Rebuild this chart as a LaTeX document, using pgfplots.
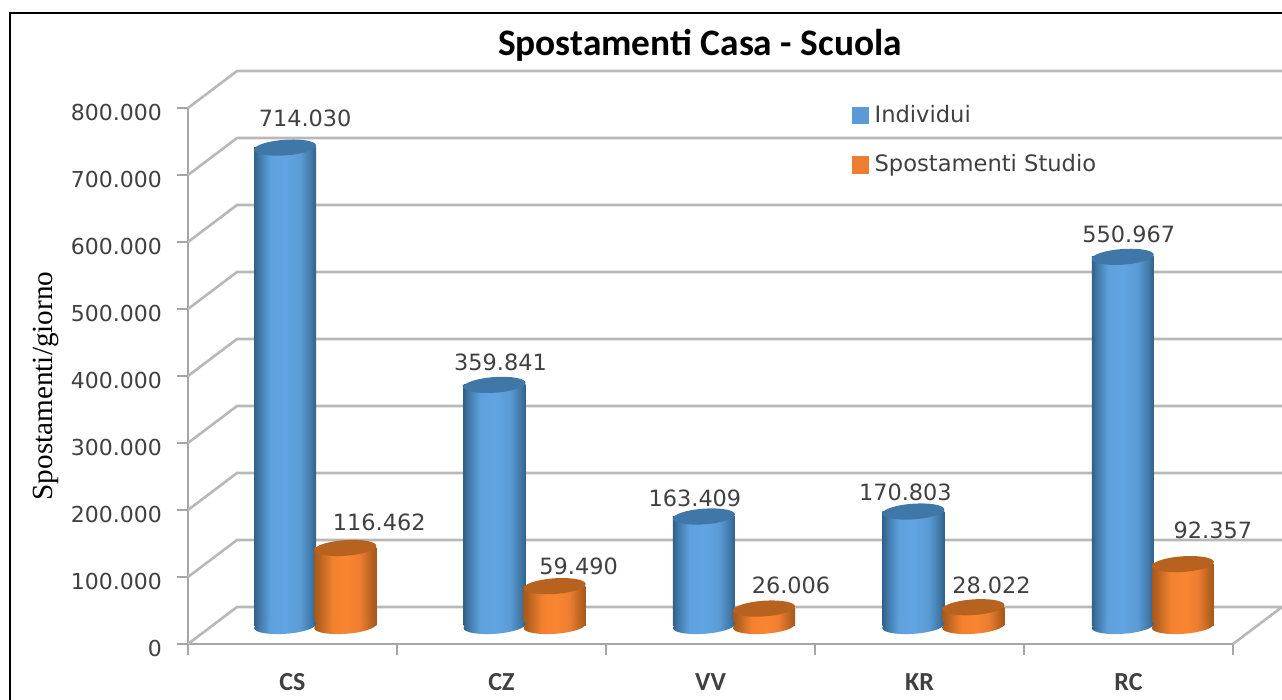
\documentclass[border=0pt]{standalone}
\usepackage{fontspec}
\setmainfont{DejaVu Sans}
\newfontfamily\carlito{Carlito}
\newfontfamily\timesf{Liberation Serif}
\usepackage{pgfplots}
\usepackage{pgfplotstable}
\pgfplotsset{compat=1.18}
\usetikzlibrary{calc}

\definecolor{gridc}{HTML}{B8B8B8}
\definecolor{tickc}{HTML}{A6A6A6}
\definecolor{textc}{HTML}{404040}
\definecolor{bluetop}{HTML}{3F78A8}
\definecolor{orangetop}{HTML}{B8621F}
\definecolor{legblue}{HTML}{5B9BD5}
\definecolor{legorange}{HTML}{ED7D31}
\definecolor{bluemid}{HTML}{60A5E2}
\definecolor{orangemid}{HTML}{F98530}

\pgfdeclarehorizontalshading{cylblue}{100bp}{color(0bp)=(bluetop);
  color(25bp)=(bluetop!80!black); color(29bp)=(bluetop); color(38bp)=(bluemid!90!bluetop); color(50bp)=(bluemid);
  color(62bp)=(legblue); color(71bp)=(bluetop); color(75bp)=(bluetop!80!black); color(100bp)=(bluetop)}
\pgfdeclarehorizontalshading{cylorange}{100bp}{color(0bp)=(orangetop);
  color(25bp)=(orangetop!90!black); color(29bp)=(orangetop); color(40bp)=(orangemid!90!orangetop); color(52bp)=(orangemid);
  color(62bp)=(legorange); color(71bp)=(orangetop); color(75bp)=(orangetop!90!black); color(100bp)=(orangetop)}

% top and bottom caps of the cylinders, slightly tilted
\pgfdeclareplotmark{captop}{%
  \pgfpathellipse{\pgfpointorigin}{\pgfqpoint{15.5pt}{1.1pt}}{\pgfqpoint{-0.3pt}{3.9pt}}%
  \pgfusepathqfill}
\pgfdeclareplotmark{capblue}{%
  \pgfpathellipse{\pgfpointorigin}{\pgfqpoint{15.5pt}{1.1pt}}{\pgfqpoint{-0.3pt}{3.9pt}}%
  \pgfshadepath{cylblue}{0}\pgfusepath{discard}}
\pgfdeclareplotmark{caporange}{%
  \pgfpathellipse{\pgfpointorigin}{\pgfqpoint{15.5pt}{1.1pt}}{\pgfqpoint{-0.3pt}{3.9pt}}%
  \pgfshadepath{cylorange}{0}\pgfusepath{discard}}

% x: category slot, dx/dy: label offset from the bar top in pt
\pgfplotstableread{
x   y      zero dx   dy
0.5 714030 0    10   14.5
1.5 359841 0    3    11.5
2.5 163409 0    -4.5 9.3
3.5 170803 0    -4   9.8
4.5 550967 0    3    11.5
}\individui
\pgfplotstableread{
x   y      zero dx   dy
0.5 116462 0    17   13
1.5 59490  0    12   10
2.5 26006  0    13.5 11.8
3.5 28022  0    9    11
4.5 92357  0    15   17
}\spostamenti

\begin{document}
\begin{tikzpicture}
\path[use as bounding box] (-94pt,-28pt) rectangle (547pt,322pt);
\draw[black,line width=1.3pt] (-89pt,-28pt) -- (-89pt,315.5pt) -- (547pt,315.5pt);

% frame axis: walls, ticks, labels
\begin{axis}[
  scale only axis, width=522.5pt, height=268pt,
  at={(0,0)}, anchor=south west,
  xmin=0, xmax=5, ymin=0, ymax=800000,
  clip=false,
  axis x line=bottom, axis y line=left,
  axis line style={-, draw=tickc, line width=1.2pt},
  tick align=outside, major tick length=5.5pt,
  tick style={draw=tickc, line width=0.7pt},
  xtick={0,1,2,3,4,5}, xticklabels={},
  extra x ticks={0.5,1.5,2.5,3.5,4.5},
  extra x tick labels={CS,CZ,VV,KR,RC},
  extra x tick style={major tick length=0pt,
    tick label style={font=\carlito\bfseries\fontsize{13}{15}\selectfont, text=textc, anchor=center, yshift=-19pt}},
  ytick={0,100000,200000,300000,400000,500000,600000,700000,800000},
  scaled y ticks=false,
  /pgf/number format/.cd, fixed, precision=0, 1000 sep={.}, assume math mode=true,
  /pgfplots/.cd,
  yticklabel style={font=\fontsize{11}{12}\selectfont, text=textc, anchor=east, xshift=-4pt, yshift=-2.2pt},
  ylabel={Spostamenti/giorno},
  every axis y label/.style={at={(axis description cs:0,0.5)}, anchor=center,
    xshift=-71pt, yshift=-5pt, rotate=90, font=\timesf\fontsize{14.6}{16}\selectfont, text=black},
  title={Spostamenti Casa - Scuola},
  every axis title/.style={at={(axis description cs:0.5,1)}, anchor=center,
    xshift=-5.25pt, yshift=31.5pt, font=\carlito\bfseries\fontsize{18.7}{20}\selectfont, text=black},
]
\pgfplotsinvokeforeach{0,100000,200000,300000,400000,500000,600000,700000,800000}{
  \draw[gridc,line width=1.3pt] (axis cs:0,#1) -- ++(24.5pt,18.5pt) -- ($(axis cs:5,#1)+(24.5pt,18.5pt)$);
}
\draw[gridc,line width=1.3pt] (axis cs:5,0) -- ++(24.5pt,18.5pt);
\end{axis}

% data axis, moved back onto the floor of the chart
\begin{axis}[
  scale only axis, width=523.5pt, height=268pt,
  at={(11.25pt,9pt)}, anchor=south west,
  xmin=0, xmax=5, ymin=0, ymax=800000,
  clip=false, axis lines=none,
  scaled y ticks=false,
  legend style={at={(rel axis cs:0.6125,0.979)}, anchor=north west, draw=none, fill=none,
    inner sep=0pt, outer sep=0pt, /tikz/row sep=10.5pt,
    /tikz/every odd column/.append style={column sep=1pt},
    font=\fontsize{11.3}{12}\selectfont, text=textc},
  legend cell align=left,
  every axis plot/.append style={forget plot},
  bar plot/.style={ybar, bar width=31pt, bar shift=0pt, draw=none},
  value labels/.style={
    visualization depends on={\thisrow{dx}\as\dx},
    visualization depends on={\thisrow{dy}\as\dy},
    nodes near coords,
    point meta=y,
    every node near coord/.append style={anchor=center, xshift=\dx pt, yshift=\dy pt,
      font=\fontsize{11.2}{12}\selectfont, text=textc,
      /pgf/number format/fixed, /pgf/number format/precision=0,
      /pgf/number format/1000 sep={.}, /pgf/number format/assume math mode=true},
  },
]
% Individui; one plot per bar so that each one gets its own shading
\addplot[only marks, mark=capblue] table[x expr=\thisrow{x}-0.1435, y=zero] {\individui};
\pgfplotsinvokeforeach{0,1,2,3,4}{
  \addplot[bar plot, shade, shading=cylblue, restrict x to domain=#1.05:#1.95]
    table[x expr=\thisrow{x}-0.1435, y=y] {\individui};
}
\addplot[only marks, mark=captop, mark options={fill=bluetop, draw=none}, value labels]
  table[x expr=\thisrow{x}-0.1435, y=y] {\individui};
% Spostamenti Studio
\addplot[only marks, mark=caporange] table[x expr=\thisrow{x}+0.1435, y=zero] {\spostamenti};
\pgfplotsinvokeforeach{0,1,2,3,4}{
  \addplot[bar plot, shade, shading=cylorange, restrict x to domain=#1.05:#1.95]
    table[x expr=\thisrow{x}+0.1435, y=y] {\spostamenti};
}
\addplot[only marks, mark=captop, mark options={fill=orangetop, draw=none}, value labels]
  table[x expr=\thisrow{x}+0.1435, y=y] {\spostamenti};

\addlegendimage{legend image code/.code={\fill[legblue] (0pt,-4.2pt) rectangle (8pt,4.2pt);}}
\addlegendentry{Individui}
\addlegendimage{legend image code/.code={\fill[legorange] (0pt,-4.2pt) rectangle (8pt,4.2pt);}}
\addlegendentry{Spostamenti Studio}
\end{axis}
\end{tikzpicture}
\end{document}
